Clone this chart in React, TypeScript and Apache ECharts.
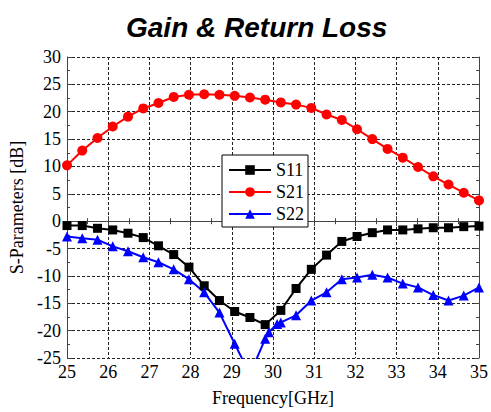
import React, { useEffect, useRef } from "react";
import * as echarts from "echarts";

const freq = [25.0, 25.37, 25.74, 26.11, 26.48, 26.85, 27.22, 27.59, 27.96, 28.33, 28.7, 29.07, 29.44, 29.81, 30.19, 30.56, 30.93, 31.3, 31.67, 32.04, 32.41, 32.78, 33.15, 33.52, 33.89, 34.26, 34.63, 35.0];
const s11 = [-0.8, -0.8, -1.3, -1.6, -2.2, -3.0, -4.5, -6.1, -8.4, -11.8, -14.5, -16.5, -17.6, -18.9, -16.3, -12.3, -8.8, -6.2, -3.7, -2.8, -2.1, -1.6, -1.6, -1.4, -1.2, -1.2, -1.0, -0.9];
const s21 = [10.2, 12.9, 15.2, 17.3, 19.1, 20.6, 21.6, 22.7, 23.1, 23.2, 23.1, 22.9, 22.6, 22.2, 21.7, 21.3, 20.7, 19.5, 18.5, 16.8, 15.0, 13.2, 11.6, 9.9, 8.2, 6.7, 5.2, 3.8];
const s22Freq = [25.0, 25.37, 25.74, 26.11, 26.48, 26.85, 27.22, 27.59, 27.96, 28.33, 28.7, 29.07, 29.44, 29.81, 29.9, 30.1, 30.19, 30.56, 30.93, 31.3, 31.67, 32.04, 32.41, 32.78, 33.15, 33.52, 33.89, 34.26, 34.63, 35.0];
const s22 = [-2.8, -3.1, -3.4, -4.6, -5.5, -6.6, -7.5, -8.8, -10.6, -13.0, -16.7, -22.4, -28.0, -21.5, -20.3, -18.8, -18.5, -17.2, -14.5, -13.0, -10.6, -10.3, -9.8, -10.3, -11.4, -12.1, -13.5, -14.5, -13.6, -12.1];

const serif = "'Liberation Serif', 'Times New Roman', serif";

export default function App() {
  const ref = useRef<HTMLDivElement>(null);
  useEffect(() => {
    if (!ref.current) return;
    const chart = echarts.init(ref.current, undefined, { renderer: "svg" });
    const axisLine = { show: true, lineStyle: { color: "#444", width: 1 } };
    const tick = { show: true, inside: true, length: 5, lineStyle: { color: "#444" } };
    const minor = { show: true, splitNumber: 2, length: 3, lineStyle: { color: "#444" } };
    const labelStyle = { fontFamily: serif, fontSize: 18, color: "#000", fontWeight: "normal" };
    chart.setOption({
      animation: false,
      backgroundColor: "#fff",
      textStyle: { fontFamily: serif },
      title: {
        text: "Gain & Return Loss",
        left: 121,
        top: 8,
        textStyle: { fontFamily: "'Liberation Sans', Arial, sans-serif", fontSize: 28, fontWeight: "bold", fontStyle: "italic", color: "#000" },
      },
      legend: {
        orient: "vertical",
        left: 222,
        top: 155,
        backgroundColor: "#fff",
        borderColor: "#000",
        borderWidth: 1,
        borderRadius: 0,
        padding: [6, 4, 4, 6],
        itemGap: 4,
        itemWidth: 42,
        itemHeight: 12,
        textStyle: labelStyle,
        data: ["S11", "S21", "S22"],
      },
      grid: { left: 67, right: 9, top: 57, bottom: 51 },
      xAxis: [
        {
          type: "value",
          min: 25,
          max: 35,
          interval: 1,
          name: "Frequency[GHz]",
          nameLocation: "middle",
          nameGap: 31,
          nameTextStyle: labelStyle,
          axisLine,
          axisTick: tick,
          minorTick: minor,
          axisLabel: { ...labelStyle, margin: 5 },
          splitLine: { show: true, lineStyle: { type: [3, 2], color: "#222", width: 1 } },
        },
        {
          type: "value",
          position: "top",
          min: 25,
          max: 35,
          interval: 1,
          axisLine,
          axisTick: tick,
          minorTick: minor,
          axisLabel: { show: false },
          splitLine: { show: false },
        },
      ],
      yAxis: [
        {
          type: "value",
          min: -25,
          max: 30,
          interval: 5,
          name: "S-Parameters [dB]",
          nameLocation: "middle",
          nameGap: 38,
          nameTextStyle: labelStyle,
          axisLine,
          axisTick: tick,
          minorTick: minor,
          axisLabel: { ...labelStyle, margin: 6 },
          splitLine: { show: true, lineStyle: { type: [3, 2], color: "#222", width: 1 } },
        },
        {
          type: "value",
          position: "right",
          min: -25,
          max: 30,
          interval: 5,
          axisLine,
          axisTick: tick,
          minorTick: minor,
          axisLabel: { show: false },
          splitLine: { show: false },
        },
      ],
      series: [
        {
          name: "S11",
          type: "line",
          data: freq.map((f, i) => [f, s11[i]]),
          symbol: "rect",
          symbolSize: 9,
          color: "#000",
          lineStyle: { width: 2 },
          clip: true,
        },
        {
          name: "S21",
          type: "line",
          data: freq.map((f, i) => [f, s21[i]]),
          symbol: "circle",
          symbolSize: 10,
          color: "#ff0000",
          lineStyle: { width: 2 },
          clip: true,
        },
        {
          name: "S22",
          type: "line",
          data: s22Freq.map((f, i) => [f, s22[i]]),
          symbol: "triangle",
          symbolSize: 10,
          color: "#0000ff",
          lineStyle: { width: 2 },
          clip: true,
        },
      ],
    });
    return () => chart.dispose();
  }, []);
  return <div ref={ref} style={{ position: "fixed", left: 0, top: 0, width: 491, height: 412 }} />;
}
